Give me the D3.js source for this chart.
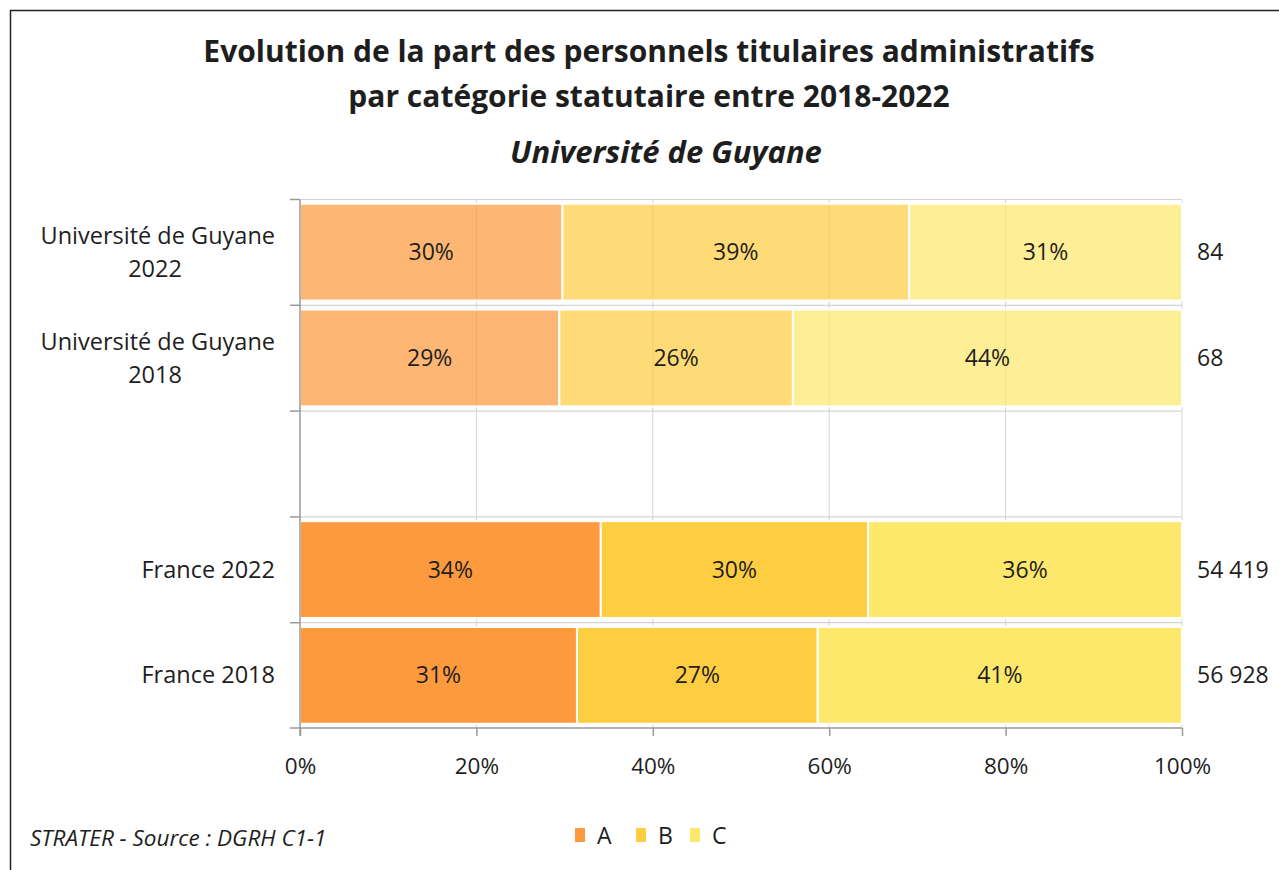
<!DOCTYPE html>
<html>
<head>
	<script src="https://d3js.org/d3.v7.min.js"></script>
	<style>
		body { margin: 0; background: #fff; }
		text { font-family: "Open Sans", sans-serif; fill: #1e1e1e; }
	</style>
</head>
<body>
	<div class="chart"></div>
	<script>
		// data
		var rows = ["Université de Guyane 2022", "Université de Guyane 2018", "", "France 2022", "France 2018"];
		var rowLines = [["Université de Guyane", "2022"], ["Université de Guyane", "2018"], [], ["France 2022"], ["France 2018"]];
		var cats = ["A", "B", "C"];
		var shareA = [29.76, 29.41, null, 34.1, 31.4];
		var shareB = [39.29, 26.47, null, 30.3, 27.3];
		var shareC = [30.95, 44.12, null, 35.6, 41.3];
		var totals = ["84", "68", "", "54 419", "56 928"];
		var xTicks = [0, 20, 40, 60, 80, 100];
		var colors = ["#fd9a3e", "#fecd41", "#fee86c"];

		var w = 1279, h = 870;
		var m = {left: 300, right: 97, top: 199.5, bottom: 142};
		var svg = d3.select(".chart").append("svg")
			.attr("width", w).attr("height", h);

		// frame
		svg.append("rect")
			.attr("x", 10.5).attr("y", 10.5)
			.attr("width", w + 20).attr("height", h + 20)
			.attr("fill", "none").attr("stroke", "#222").attr("stroke-width", 1.5);

		// titles
		svg.append("text").attr("x", 649).attr("y", 62).attr("text-anchor", "middle")
			.style("font-size", "30px").style("font-weight", "bold")
			.text("Evolution de la part des personnels titulaires administratifs");
		svg.append("text").attr("x", 649).attr("y", 107).attr("text-anchor", "middle")
			.style("font-size", "30px").style("font-weight", "bold")
			.text("par catégorie statutaire entre 2018-2022");
		svg.append("text").attr("x", 666).attr("y", 163).attr("text-anchor", "middle")
			.style("font-size", "31px").style("font-weight", "bold").style("font-style", "italic")
			.text("Université de Guyane");

		var x = d3.scaleLinear().domain([0, 100]).range([m.left, w - m.right]);
		var y = d3.scaleBand().domain(rows.map(function(d, i) { return i; }))
			.range([m.top, h - m.bottom]).paddingInner(0.085).paddingOuter(0.04);
		var step = y.step();

		// gridlines
		svg.append("g").selectAll("line").data(xTicks.slice(1)).enter().append("line")
			.attr("x1", function(d) { return x(d); }).attr("x2", function(d) { return x(d); })
			.attr("y1", m.top).attr("y2", h - m.bottom)
			.attr("stroke", "#d4d4d4").attr("stroke-width", 1);
		svg.append("g").selectAll("line").data(d3.range(rows.length)).enter().append("line")
			.attr("x1", m.left).attr("x2", w - m.right)
			.attr("y1", function(d) { return m.top + d * step; })
			.attr("y2", function(d) { return m.top + d * step; })
			.attr("stroke", "#d4d4d4").attr("stroke-width", 1.2);

		// stacked bars
		var table = rows.map(function(r, i) {
			return {i: i, A: shareA[i], B: shareB[i], C: shareC[i]};
		}).filter(function(d) { return d.A != null; });
		var series = d3.stack().keys(cats)(table);

		var layer = svg.append("g").selectAll("g").data(series).enter().append("g")
			.attr("fill", function(d, k) { return colors[k]; });
		layer.selectAll("rect").data(function(d) { return d; }).enter().append("rect")
			.attr("x", function(d) { return x(d[0]); })
			.attr("width", function(d) { return x(d[1]) - x(d[0]); })
			.attr("y", function(d) { return y(d.data.i); })
			.attr("height", y.bandwidth())
			.attr("fill-opacity", function(d) { return d.data.i < 2 ? 0.72 : 1; })
			.attr("stroke", "#fff").attr("stroke-width", 2);
		layer.selectAll("text").data(function(d) { return d; }).enter().append("text")
			.attr("x", function(d) { return (x(d[0]) + x(d[1])) / 2; })
			.attr("y", function(d) { return y(d.data.i) + y.bandwidth() / 2 + 8; })
			.attr("text-anchor", "middle").style("font-size", "23px")
			.text(function(d) { return Math.round(d[1] - d[0]) + "%"; });

		// totals
		svg.append("g").selectAll("text").data(totals).enter().append("text")
			.attr("x", w - m.right + 15)
			.attr("y", function(d, i) { return y(i) + y.bandwidth() / 2 + 8; })
			.style("font-size", "23px")
			.text(function(d) { return d; });

		// x axis
		var xAxis = svg.append("g").attr("transform", "translate(0," + (h - m.bottom) + ")")
			.call(d3.axisBottom(x).tickValues(xTicks).tickSize(8).tickPadding(22)
				.tickFormat(function(d) { return d + "%"; }));
		xAxis.select(".domain").attr("stroke", "#9a9a9a").attr("stroke-width", 1.5)
			.attr("d", "M" + (m.left - 10) + ",0H" + (w - m.right));
		xAxis.selectAll(".tick line").attr("stroke", "#9a9a9a").attr("stroke-width", 1.5);
		xAxis.selectAll(".tick text").style("font-size", "22.5px").style("font-family", "'Open Sans', sans-serif").attr("fill", "#1e1e1e");

		// y axis line and ticks at band edges
		svg.append("line").attr("x1", m.left).attr("x2", m.left)
			.attr("y1", m.top).attr("y2", h - m.bottom + 8)
			.attr("stroke", "#9a9a9a").attr("stroke-width", 1.5);
		svg.append("g").selectAll("line").data(d3.range(rows.length)).enter().append("line")
			.attr("x1", m.left - 10).attr("x2", m.left)
			.attr("y1", function(d) { return m.top + d * step; })
			.attr("y2", function(d) { return m.top + d * step; })
			.attr("stroke", "#9a9a9a").attr("stroke-width", 1.5);

		// row labels
		var lab = svg.append("g").selectAll("text").data(rowLines).enter().append("text")
			.attr("text-anchor", "end").style("font-size", "23.5px")
			.attr("transform", function(d, i) {
				return "translate(" + (m.left - 25) + "," + (y(i) + y.bandwidth() / 2) + ")";
			});
		lab.selectAll("tspan").data(function(d) { return d; }).enter().append("tspan")
			.attr("x", function(d, j, nodes) { return nodes.length > 1 && j == 1 ? -120 : 0; })
			.attr("text-anchor", function(d, j, nodes) { return nodes.length > 1 && j == 1 ? "middle" : "end"; })
			.attr("y", function(d, j, nodes) { return nodes.length > 1 ? (j == 0 ? -8 : 25) : 8; })
			.text(function(d) { return d; });

		// source
		svg.append("text").attr("x", 30).attr("y", 846)
			.style("font-size", "22.5px").style("font-style", "italic")
			.text("STRATER - Source : DGRH C1-1");

		// legend
		var lx = [575, 636, 690];
		var leg = svg.append("g").selectAll("g").data(cats).enter().append("g")
			.attr("transform", function(d, k) { return "translate(" + lx[k] + ",828)"; });
		leg.append("rect").attr("width", 10).attr("height", 14)
			.attr("fill", function(d, k) { return colors[k]; });
		leg.append("text").attr("x", 22).attr("y", 16).style("font-size", "23px")
			.text(function(d) { return d; });
	</script>
</body>
</html>
